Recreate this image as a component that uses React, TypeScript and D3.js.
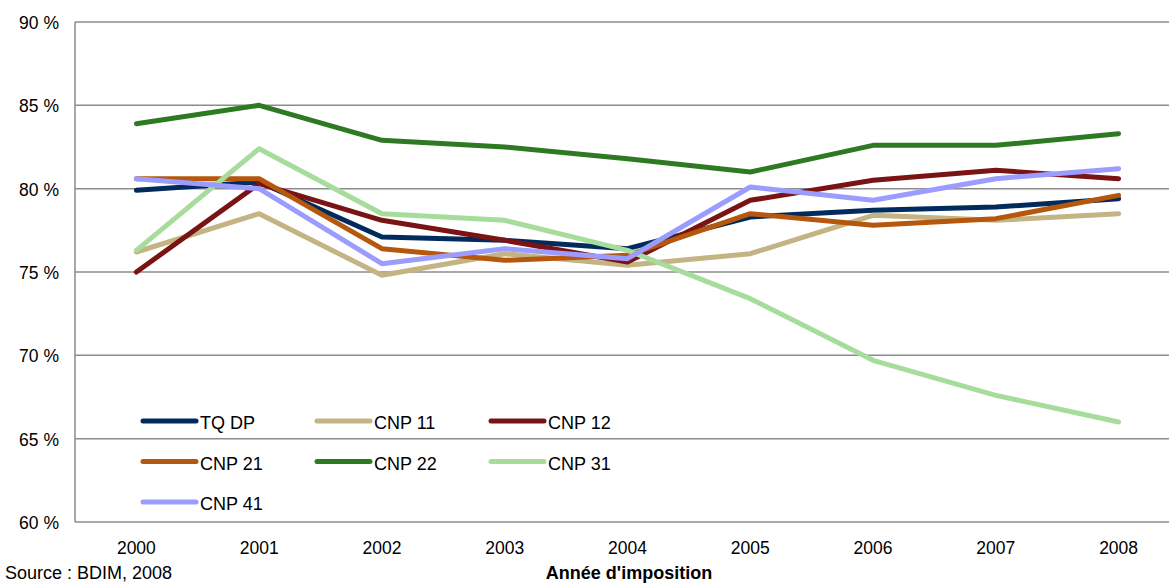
import React, { useEffect, useRef } from 'react';
import * as d3 from 'd3';

const years = ['2000', '2001', '2002', '2003', '2004', '2005', '2006', '2007', '2008'];
const yTicks = [60, 65, 70, 75, 80, 85, 90];

const seriesNames = ['TQ DP', 'CNP 11', 'CNP 12', 'CNP 21', 'CNP 22', 'CNP 31', 'CNP 41'];
const seriesColors = ['#002b5c', '#c4b383', '#7a1414', '#b5570c', '#2e7a23', '#a6dd9c', '#9c9cff'];

const tqdp = [79.9, 80.4, 77.1, 76.9, 76.4, 78.3, 78.7, 78.9, 79.4];
const cnp11 = [76.2, 78.5, 74.8, 76.1, 75.4, 76.1, 78.4, 78.1, 78.5];
const cnp12 = [75.0, 80.3, 78.1, 76.9, 75.6, 79.3, 80.5, 81.1, 80.6];
const cnp21 = [80.6, 80.6, 76.4, 75.7, 76.0, 78.5, 77.8, 78.2, 79.6];
const cnp22 = [83.9, 85.0, 82.9, 82.5, 81.8, 81.0, 82.6, 82.6, 83.3];
const cnp31 = [76.3, 82.4, 78.5, 78.1, 76.3, 73.4, 69.7, 67.6, 66.0];
const cnp41 = [80.6, 80.0, 75.5, 76.4, 75.8, 80.1, 79.3, 80.6, 81.2];

const seriesValues = [tqdp, cnp11, cnp12, cnp21, cnp22, cnp31, cnp41];

const App = () => {
    const ref = useRef(null);

    useEffect(() => {
        const svg = d3.select(ref.current);
        svg.selectAll('*').remove();

        const width = 1169;
        const height = 583;
        const left = 75, top = 22, bottom = 522;
        const plotRight = 1180;
        const font = 'Liberation Sans, Arial, sans-serif';

        const x = d3.scalePoint().domain(years).range([left, plotRight]).padding(0.5);
        const y = d3.scaleLinear().domain([60, 90]).range([bottom, top]);

        svg.attr('width', width).attr('height', height);

        // gridlines
        svg.append('g')
            .selectAll('line')
            .data(yTicks)
            .join('line')
            .attr('x1', left)
            .attr('x2', width)
            .attr('y1', d => y(d))
            .attr('y2', d => y(d))
            .attr('stroke', '#8c8c8c')
            .attr('stroke-width', 1.5);

        svg.append('line')
            .attr('x1', left).attr('x2', left)
            .attr('y1', top).attr('y2', bottom)
            .attr('stroke', '#8c8c8c')
            .attr('stroke-width', 1.5);

        // y tick labels
        svg.append('g')
            .selectAll('text')
            .data(yTicks)
            .join('text')
            .attr('x', 59)
            .attr('y', d => y(d) + 7)
            .attr('text-anchor', 'end')
            .attr('font-family', font)
            .attr('font-size', 17.5)
            .attr('fill', '#000')
            .text(d => `${d} %`);

        // x tick labels
        svg.append('g')
            .selectAll('text')
            .data(years)
            .join('text')
            .attr('x', d => x(d))
            .attr('y', 554)
            .attr('text-anchor', 'middle')
            .attr('font-family', font)
            .attr('font-size', 17.5)
            .attr('fill', '#000')
            .text(d => d);

        // lines
        const line = d3.line<number>()
            .x((d, i) => x(years[i]) as number)
            .y(d => y(d));

        seriesValues.forEach((vals, i) => {
            svg.append('path')
                .datum(vals)
                .attr('d', line)
                .attr('fill', 'none')
                .attr('stroke', seriesColors[i])
                .attr('stroke-width', 5)
                .attr('stroke-linejoin', 'round')
                .attr('stroke-linecap', 'round');
        });

        // legend
        const legend = svg.append('g');
        seriesNames.forEach((name, i) => {
            const col = i % 3;
            const row = Math.floor(i / 3);
            const lx = 143 + col * 174;
            const ly = 421 + row * 40.5;
            legend.append('line')
                .attr('x1', lx).attr('x2', lx + 53)
                .attr('y1', ly).attr('y2', ly)
                .attr('stroke', seriesColors[i])
                .attr('stroke-width', 5)
                .attr('stroke-linecap', 'round');
            legend.append('text')
                .attr('x', lx + 57)
                .attr('y', ly + 8)
                .attr('font-family', font)
                .attr('font-size', 18)
                .attr('fill', '#000')
                .text(name);
        });

        svg.append('text')
            .attr('x', 5)
            .attr('y', 579)
            .attr('font-family', font)
            .attr('font-size', 18)
            .attr('fill', '#000')
            .text('Source : BDIM, 2008');

        svg.append('text')
            .attr('x', 629)
            .attr('y', 579)
            .attr('text-anchor', 'middle')
            .attr('font-family', font)
            .attr('font-size', 18)
            .attr('font-weight', 'bold')
            .attr('fill', '#000')
            .text("Année d'imposition");
    }, []);

    return (
        <div style={{ position: 'absolute', left: 0, top: 0 }}>
            <svg ref={ref} style={{ display: 'block' }} />
        </div>
    );
};

export default App;
